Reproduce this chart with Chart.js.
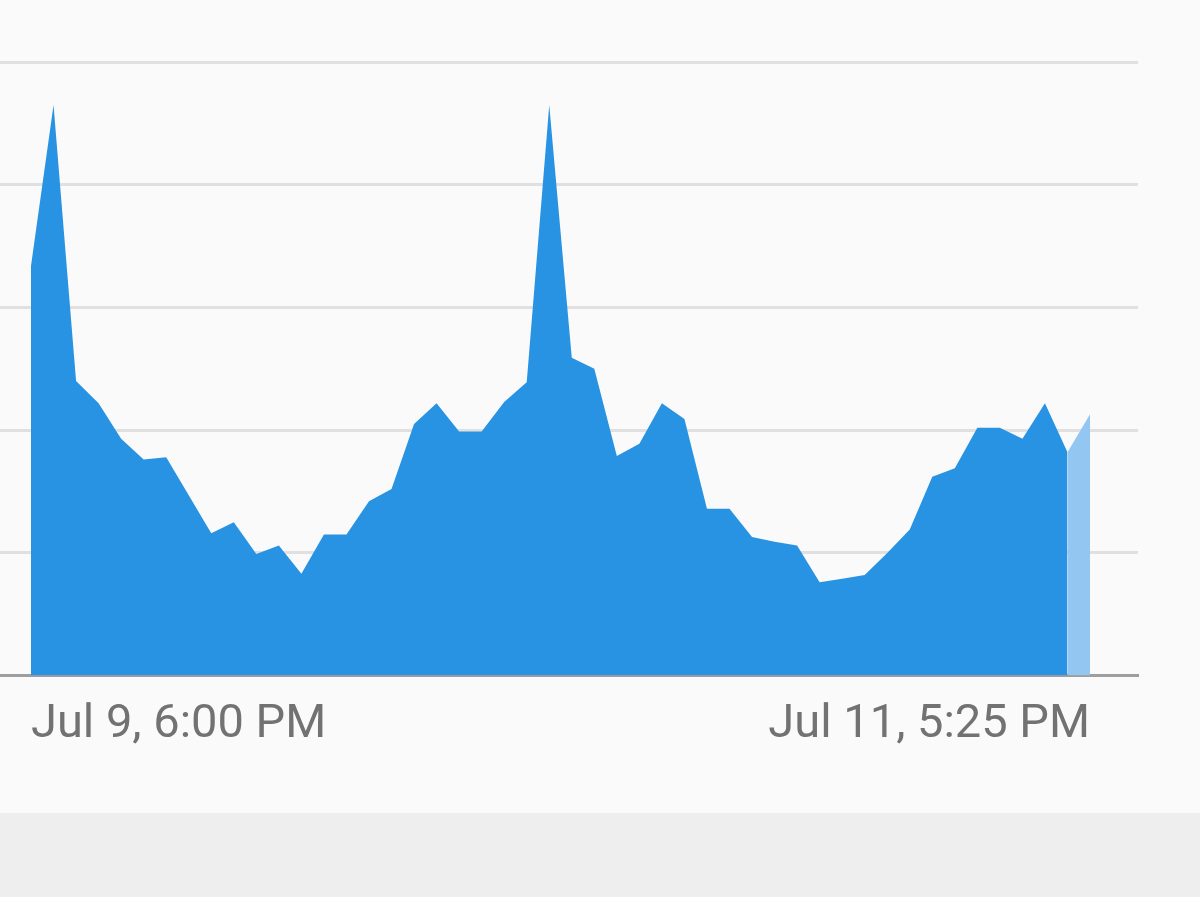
<!DOCTYPE html>
<html>
<head>
<meta charset="utf-8">
<script src="https://cdn.jsdelivr.net/npm/chart.js@4"></script>
<style>
  html, body { margin: 0; padding: 0; background: #EEEEEE; }
  #box { width: 1200px; height: 813px; background: #FAFAFA; }
</style>
</head>
<body>
<div id="box"><canvas id="grafico" width="1200" height="813"></canvas></div>
<script>
// valores (0..5 na escala, uma linha de grade por unidade)
var pontos = [3.34, 4.65, 2.40, 2.22, 1.93, 1.76, 1.78, 1.47, 1.16, 1.25,
              0.99, 1.06, 0.83, 1.15, 1.15, 1.42, 1.52, 2.05, 2.22, 1.99,
              1.99, 2.23, 2.39, 4.65, 2.59, 2.50, 1.79, 1.89, 2.22, 2.09,
              1.36, 1.36, 1.13, 1.09, 1.06, 0.76, 0.79, 0.82, 1.00, 1.19,
              1.62, 1.69, 2.02, 2.02, 1.93, 2.22, 1.82, 2.13];
var rotuloInicio = "Jul 9, 6:00 PM";
var rotuloFim = "Jul 11, 5:25 PM";
var ultimo = pontos.length - 1;

// serie principal ate o penultimo ponto, trecho final claro separado
var principal = pontos.map(function (v, i) { return { x: i, y: i < ultimo ? v : null }; });
var parcial = pontos.map(function (v, i) { return { x: i, y: i >= ultimo - 1 ? v : null }; });

function gerarGrafico() {
    var ctx = document.getElementById("grafico").getContext("2d");

    new Chart(ctx, {
        type: "line",
        data: {
            datasets: [
                {
                    data: principal,
                    backgroundColor: "#2893E3",
                    borderColor: "#2893E3",
                    borderWidth: 0,
                    pointRadius: 0,
                    fill: "origin",
                    spanGaps: false
                },
                {
                    data: parcial,
                    backgroundColor: "#93C7F2",
                    borderColor: "#93C7F2",
                    borderWidth: 0,
                    pointRadius: 0,
                    fill: "origin",
                    spanGaps: false
                }
            ]
        },
        options: {
            responsive: false,
            animation: false,
            layout: { padding: { top: 62, right: 62, left: 0, bottom: 47 } },
            plugins: { legend: { display: false }, tooltip: { enabled: false } },
            elements: { line: { tension: 0 } },
            scales: {
                x: {
                    type: "linear",
                    min: -1.376,
                    max: 49.13,
                    afterBuildTicks: function (escala) {
                        escala.ticks = [{ value: 0 }, { value: ultimo }];
                    },
                    grid: { display: false },
                    border: { display: true, color: "#9E9E9E", width: 3 },
                    ticks: {
                        align: "inner",
                        autoSkip: false,
                        maxRotation: 0,
                        padding: 13,
                        color: "#727272",
                        font: { family: "Roboto", size: 47 },
                        callback: function (valor) {
                            return valor === 0 ? rotuloInicio : rotuloFim;
                        }
                    }
                },
                y: {
                    min: 0,
                    max: 5,
                    ticks: { display: false, stepSize: 1 },
                    grid: { color: "#E0E0E0", lineWidth: 3, drawTicks: false },
                    border: { display: false }
                }
            }
        }
    });
}
gerarGrafico();
</script>
</body>
</html>
